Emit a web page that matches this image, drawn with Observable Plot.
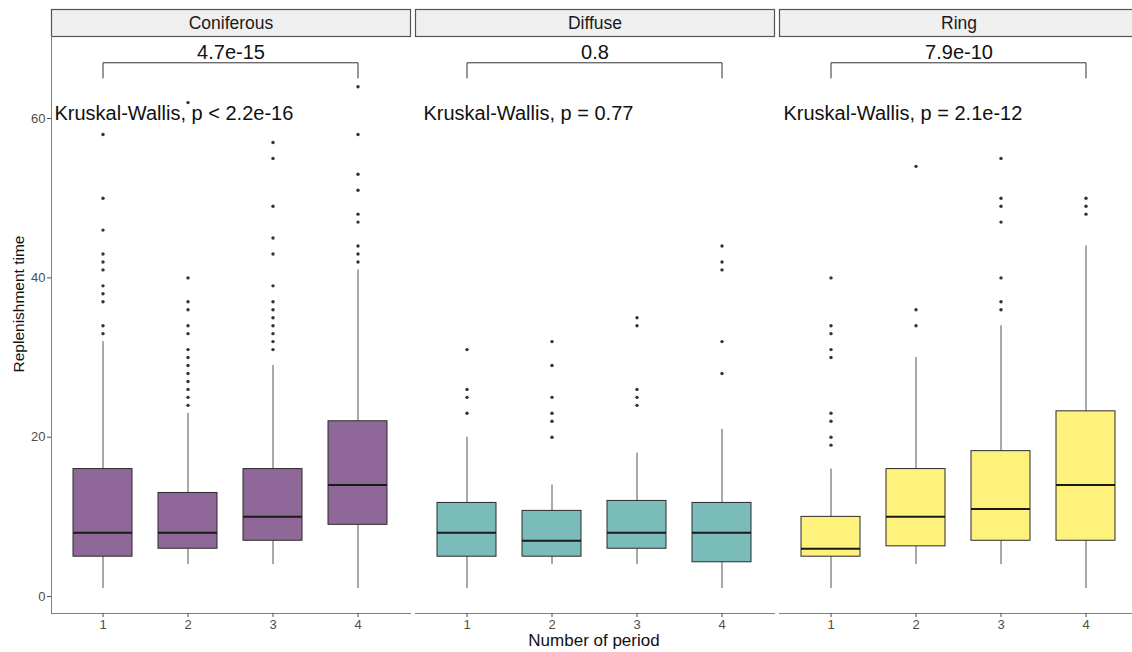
<!DOCTYPE html>
<html>
<head>
<meta charset="utf-8">
<script src="https://cdn.jsdelivr.net/npm/d3@7"></script>
<script src="https://cdn.jsdelivr.net/npm/@observablehq/plot@0.6"></script>
<style>
  html, body { margin: 0; padding: 0; background: #fff; }
  #chart svg { display: block; }
</style>
</head>
<body>
<div id="chart"></div>
<script>
// ---- data ----
const types = ["Coniferous", "Diffuse", "Ring"];
const periods = [1, 2, 3, 4];
const fillColors = ["#8f6798", "#7abcba", "#fef17c"];

// box statistics, ordered type × period
const whiskerLow  = [1, 4, 4, 1,   1, 4, 4, 1,     1, 4, 4, 1];
const q1          = [5, 6, 7, 9,   5, 5, 6, 4.3,   5, 6.3, 7, 7];
const median      = [8, 8, 10, 14, 8, 7, 8, 8,     6, 10, 11, 14];
const q3          = [16, 13, 16, 22, 11.75, 10.75, 12, 11.75, 10, 16, 18.25, 23.25];
const whiskerHigh = [32, 23, 29, 41, 20, 14, 18, 21, 16, 30, 34, 44];

// outliers per period
const coniferousOutliers = [
  [58, 50, 46, 43, 42, 41, 39, 38, 37, 34, 33],
  [62, 40, 37, 36, 34, 33, 31, 30, 29, 28, 27, 26, 25, 24],
  [57, 55, 49, 45, 43, 39, 37, 36, 35, 34, 33, 32, 31],
  [64, 58, 53, 51, 48, 47, 44, 43, 42]
];
const diffuseOutliers = [
  [31, 26, 25, 23],
  [32, 29, 25, 23, 22, 20],
  [35, 34, 26, 25, 24],
  [44, 42, 41, 32, 28]
];
const ringOutliers = [
  [40, 34, 33, 31, 30, 23, 22, 20, 19],
  [54, 36, 34],
  [55, 50, 49, 47, 40, 37, 36],
  [50, 49, 48]
];

// annotations
const pairLabels = ["4.7e-15", "0.8", "7.9e-10"];
const kwLabels = ["Kruskal-Wallis, p < 2.2e-16", "Kruskal-Wallis, p = 0.77", "Kruskal-Wallis, p = 2.1e-12"];
const bracketY = 67;
const bracketTipY = 65.1;
const kwY = 60.6;
const yTicks = [0, 20, 40, 60];
const yDomain = [-2.13, 70.3];

// ---- derived tables ----
const boxes = types.flatMap((t, i) => periods.map((p, j) => {
  const k = i * 4 + j;
  return {type: t, period: p, lo: whiskerLow[k], q1: q1[k], med: median[k], q3: q3[k], hi: whiskerHigh[k]};
}));
const outlierSets = [coniferousOutliers, diffuseOutliers, ringOutliers];
const outliers = types.flatMap((t, i) => outlierSets[i].flatMap((vals, j) => vals.map(v => ({type: t, period: periods[j], value: v}))));
const brackets = types.flatMap(t => [
  {type: t, period: periods[0], y: bracketTipY},
  {type: t, period: periods[0], y: bracketY},
  {type: t, period: periods[3], y: bracketY},
  {type: t, period: periods[3], y: bracketTipY}
]);
const pairRows = types.map((t, i) => ({type: t, label: pairLabels[i]}));
const kwRows = types.map((t, i) => ({type: t, label: kwLabels[i]}));

const font = "'Liberation Sans', Arial, sans-serif";
const axisColor = "#7f7f7f";
const kwDx = [3, 8, 4];

const chart = Plot.plot({
  width: 1132,
  height: 652,
  marginTop: 36,
  marginBottom: 39,
  marginLeft: 50,
  marginRight: -7,
  style: {fontFamily: font, background: "#fff", overflow: "hidden"},
  fx: {domain: types, paddingInner: 0.0137, paddingOuter: 0, axis: null, label: null},
  x: {type: "band", domain: periods, paddingInner: 0.3, paddingOuter: 0.25, label: null},
  y: {domain: yDomain, label: null},
  color: {domain: types, range: fillColors},
  marks: [
    // strip headers
    Plot.frame({fill: "#efefef", stroke: "#555", strokeWidth: 1.2, insetTop: -27, insetBottom: 577}),
    Plot.text(types, {fx: d => d, text: d => d, frameAnchor: "top", lineAnchor: "middle", dy: -13.5, fontSize: 17.5, fill: "#1a1a1a"}),
    // axis lines
    Plot.frame({anchor: "left", facetAnchor: "left", stroke: axisColor}),
    Plot.frame({anchor: "bottom", stroke: axisColor}),
    Plot.axisY({ticks: yTicks, tickSize: 4, tickPadding: 2, fontSize: 13, label: null, color: "#4d4d4d"}),
    Plot.axisX({tickSize: 4, tickPadding: 2, fontSize: 13, label: null, color: "#4d4d4d"}),
    // whiskers
    Plot.ruleX(boxes, {fx: "type", x: "period", y1: "q3", y2: "hi", stroke: "#555", strokeWidth: 1}),
    Plot.ruleX(boxes, {fx: "type", x: "period", y1: "lo", y2: "q1", stroke: "#555", strokeWidth: 1}),
    // boxes
    Plot.barY(boxes, {fx: "type", x: "period", y1: "q1", y2: "q3", fill: "type", stroke: "#2b2b2b", strokeWidth: 1, inset: 0}),
    Plot.tickY(boxes, {fx: "type", x: "period", y: "med", stroke: "#1a1a1a", strokeWidth: 2}),
    // outliers
    Plot.dot(outliers, {fx: "type", x: "period", y: "value", r: 1.7, fill: "#333", stroke: null}),
    // pairwise bracket
    Plot.line(brackets, {fx: "type", x: "period", y: "y", z: "type", stroke: "#333", strokeWidth: 1}),
    Plot.text(pairRows, {fx: "type", y: bracketY, text: "label", lineAnchor: "bottom", dy: -4, fontSize: 20, fill: "#111"}),
    // Kruskal-Wallis labels
    ...kwRows.map((row, i) => Plot.text([row], {fx: "type", y: kwY, text: "label", frameAnchor: "left", textAnchor: "start", dx: kwDx[i], fontSize: 20, fill: "#111"}))
  ]
});

document.getElementById("chart").appendChild(chart);

// axis titles
const svg = d3.select(chart);
svg.append("text")
  .attr("transform", "translate(19,304) rotate(-90)")
  .attr("text-anchor", "middle")
  .attr("dy", "0.35em")
  .attr("font-size", 15.5)
  .attr("font-family", font)
  .attr("fill", "#111")
  .text("Replenishment time");
svg.append("text")
  .attr("x", 594)
  .attr("y", 646)
  .attr("text-anchor", "middle")
  .attr("font-size", 17)
  .attr("font-family", font)
  .attr("fill", "#111")
  .text("Number of period");
</script>
</body>
</html>
